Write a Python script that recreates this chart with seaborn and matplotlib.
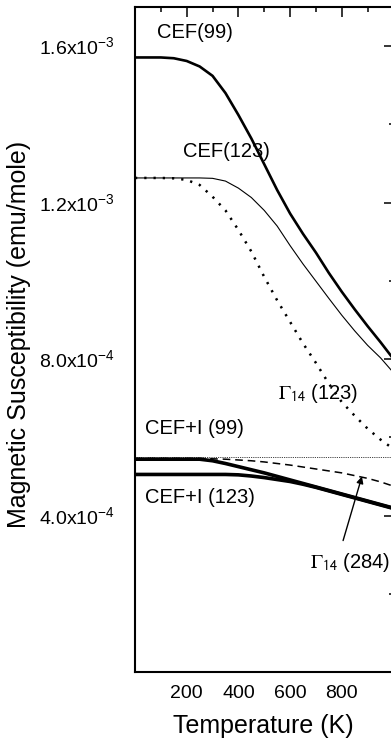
import numpy as np
import pandas as pd
import matplotlib
matplotlib.use("Agg")
import matplotlib.pyplot as plt
import seaborn as sns

# Temperature grid (K) and susceptibilities (emu/mole)
T = [0, 100, 150, 200, 250, 300, 350, 400, 450, 500, 550, 600, 650, 700, 750, 800, 850, 900, 950, 1000]

cef_99 = [1.571, 1.571, 1.569, 1.562, 1.548, 1.524, 1.480, 1.424, 1.364, 1.298, 1.232, 1.172,
          1.120, 1.072, 1.020, 0.972, 0.927, 0.884, 0.843, 0.800]
cef_123 = [1.263, 1.263, 1.263, 1.263, 1.263, 1.262, 1.255, 1.237, 1.213, 1.180, 1.140, 1.090,
           1.043, 0.999, 0.955, 0.912, 0.872, 0.835, 0.803, 0.765]
g14_123 = [1.263, 1.263, 1.262, 1.258, 1.245, 1.215, 1.180, 1.130, 1.075, 1.010, 0.950, 0.895,
           0.840, 0.790, 0.737, 0.690, 0.655, 0.622, 0.594, 0.570]
cefi_99 = [5.44, 5.44, 5.44, 5.44, 5.44, 5.40, 5.33, 5.25, 5.17, 5.09, 5.00, 4.91,
           4.82, 4.73, 4.64, 4.55, 4.46, 4.37, 4.28, 4.19]
cefi_123 = [5.05, 5.05, 5.05, 5.05, 5.05, 5.05, 5.05, 5.04, 5.01, 4.97, 4.92, 4.87,
            4.80, 4.72, 4.63, 4.54, 4.45, 4.36, 4.27, 4.18]
g14_284 = [5.46, 5.46, 5.46, 5.46, 5.46, 5.45, 5.44, 5.42, 5.40, 5.37, 5.33, 5.29,
           5.24, 5.19, 5.14, 5.09, 5.02, 4.95, 4.86, 4.75]
g14_99 = [5.50] * len(T)

# scale factors
cef_99 = [v * 1e-3 for v in cef_99]
cef_123 = [v * 1e-3 for v in cef_123]
g14_123 = [v * 1e-3 for v in g14_123]
cefi_99 = [v * 1e-4 for v in cefi_99]
cefi_123 = [v * 1e-4 for v in cefi_123]
g14_284 = [v * 1e-4 for v in g14_284]
g14_99 = [v * 1e-4 for v in g14_99]

x_major = [200, 400, 600, 800]
x_minor = [100, 300, 500, 700, 900]
y_major = [4e-4, 8e-4, 1.2e-3, 1.6e-3]
y_minor = [2e-4, 6e-4, 1.0e-3, 1.4e-3]
y_ticklabels = [r"4.0x10$^{\mathregular{-4}}$", r"8.0x10$^{\mathregular{-4}}$",
                r"1.2x10$^{\mathregular{-3}}$", r"1.6x10$^{\mathregular{-3}}$"]

sns.set_theme(style="white")
plt.rcParams["font.family"] = ["Liberation Sans", "DejaVu Sans"]
plt.rcParams["text.color"] = "black"
plt.rcParams["axes.labelcolor"] = "black"

fig = plt.figure(figsize=(3.91, 7.42), dpi=100)
ax = fig.add_axes([135 / 391, 70 / 742, 258.5 / 391, 665 / 742])

df = pd.DataFrame({"T": T, "cef_99": cef_99, "cef_123": cef_123, "g14_123": g14_123,
                   "cefi_99": cefi_99, "cefi_123": cefi_123, "g14_284": g14_284,
                   "g14_99": g14_99})

# (column, linewidth, linestyle)
styles = [
    ("g14_99", 0.6, (0, (1, 1.2))),
    ("cef_123", 0.8, "-"),
    ("g14_123", 1.8, (0, (0.9, 2.8))),
    ("g14_284", 1.1, (0, (5, 3.2))),
    ("cefi_123", 2.6, "-"),
    ("cefi_99", 2.6, "-"),
    ("cef_99", 1.9, "-"),
]
for col, lw, ls in styles:
    sns.lineplot(data=df, x="T", y=col, ax=ax, color="black", lw=lw, linestyle=ls)

ax.set_xlim(0, 1000)
ax.set_ylim(0, 1.7e-3)
ax.set_xticks(x_major)
ax.set_xticks(x_minor, minor=True)
ax.set_xticklabels([str(v) for v in x_major])
ax.set_yticks(y_major)
ax.set_yticks(y_minor, minor=True)
ax.set_yticklabels(y_ticklabels, ha="left")

ax.tick_params(which="both", direction="in", top=True, right=True, color="black",
               width=1.1, labelsize=14, labelcolor="black")
ax.tick_params(which="major", length=7)
ax.tick_params(which="minor", length=3.5)
ax.tick_params(axis="x", pad=9)
ax.tick_params(axis="y", pad=69)
for sp in ax.spines.values():
    sp.set_color("black")
    sp.set_linewidth(1.5)

ax.set_xlabel("Temperature (K)", fontsize=18, va="center", color="black")
ax.xaxis.set_label_coords(0.497, -0.081)
ax.set_ylabel("Magnetic Susceptibility (emu/mole)", fontsize=18, va="center", color="black")
ax.yaxis.set_label_coords(-0.448, 0.508)

fs = 14.5
ax.text(85, 1.635e-3, "CEF(99)", fontsize=fs, va="center")
ax.text(186, 1.33e-3, "CEF(123)", fontsize=fs, va="center")
ax.text(553, 7.13e-4, r"$\mathrm{\Gamma}_{\mathsf{14}}$ (123)", fontsize=fs, va="center",
        math_fontfamily="stix")
ax.text(39, 6.23e-4, "CEF+I (99)", fontsize=fs, va="center")
ax.text(39, 4.46e-4, "CEF+I (123)", fontsize=fs, va="center")
ax.text(677, 2.8e-4, r"$\mathrm{\Gamma}_{\mathsf{14}}$ (284)", fontsize=fs, va="center",
        math_fontfamily="stix")
ax.annotate("", xy=(878, 5.0e-4), xytext=(805, 3.36e-4),
            arrowprops=dict(arrowstyle="-|>", color="black", lw=1.0,
                            mutation_scale=10, shrinkA=0, shrinkB=0))

fig.savefig("out.png", dpi=100)
